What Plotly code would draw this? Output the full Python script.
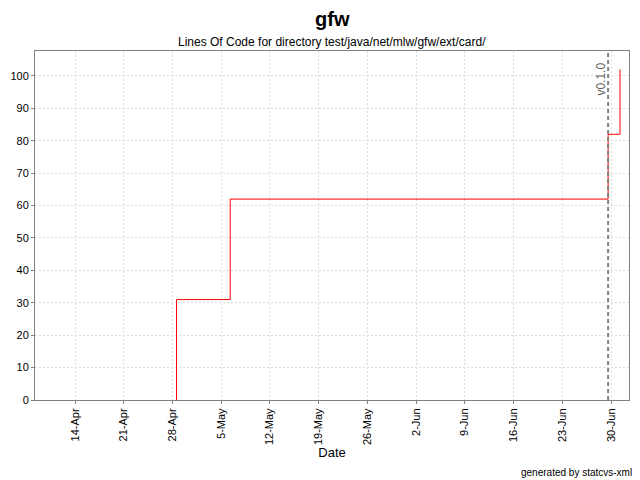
import plotly.graph_objects as go

# Data
dates = ["2008-04-28 14:00", "2008-04-28 14:00", "2008-05-06 07:00", "2008-06-29 14:00", "2008-07-01 07:00"]
loc = [0, 31, 62, 82, 102]
tick_dates = ["2008-04-14", "2008-04-21", "2008-04-28", "2008-05-05", "2008-05-12", "2008-05-19",
              "2008-05-26", "2008-06-02", "2008-06-09", "2008-06-16", "2008-06-23", "2008-06-30"]
tick_labels = ["14-Apr", "21-Apr", "28-Apr", "5-May", "12-May", "19-May",
               "26-May", "2-Jun", "9-Jun", "16-Jun", "23-Jun", "30-Jun"]
version_date = "2008-06-29 14:00"
version_label = "v0.1.0"
y_ticks = list(range(0, 101, 10))

FONT = "Liberation Sans, Arial"

fig = go.Figure()
fig.add_trace(go.Scatter(x=dates, y=loc, mode="lines", line=dict(color="#ff0000", width=1, shape="hv"),
                         showlegend=False, hoverinfo="skip"))

fig.add_shape(type="line", xref="x", yref="paper", x0=version_date, x1=version_date, y0=0, y1=1,
              line=dict(color="#808080", width=2, dash="4px,3px"))
fig.add_annotation(x=version_date, xref="x", y=1, yref="paper", text=version_label, textangle=-90,
                   showarrow=False, xanchor="right", yanchor="top", xshift=1, yshift=-10,
                   font=dict(family=FONT, size=12, color="#606060"))

fig.update_layout(
    width=640, height=480,
    margin=dict(l=35, r=11, t=51, b=80, autoexpand=False),
    paper_bgcolor="white", plot_bgcolor="white",
    font=dict(family=FONT, size=11, color="black"),
    xaxis=dict(range=["2008-04-08 06:00", "2008-07-02 14:00"], tickvals=tick_dates, ticktext=tick_labels,
               tickangle=-90, showgrid=True, gridcolor="#dcdcdc", griddash="2px,2px", gridwidth=1,
               showline=True, linecolor="#808080", mirror=True, ticks="outside", ticklen=3,
               tickcolor="#808080", zeroline=False, tickfont=dict(size=11), automargin=False,
               title=dict(text="Date", font=dict(size=13), standoff=2)),
    yaxis=dict(range=[0, 107.7], tickvals=y_ticks, showgrid=True, gridcolor="#dcdcdc", griddash="2px,2px",
               showline=True, linecolor="#808080", mirror=True, ticks="outside", ticklen=3,
               tickcolor="#808080", zeroline=False, tickfont=dict(size=11), automargin=False),
)
fig.add_annotation(text="<b>gfw</b>", xref="paper", yref="paper", x=0.5, y=1, yshift=51 - 19,
                   xanchor="center", yanchor="middle", showarrow=False,
                   font=dict(family=FONT, size=20, color="black"))
fig.add_annotation(text="Lines Of Code for directory test/java/net/mlw/gfw/ext/card/", xref="paper", yref="paper",
                   x=0.5, y=1, yshift=51 - 42, xanchor="center", yanchor="middle", showarrow=False,
                   font=dict(family=FONT, size=12, color="black"))
fig.add_annotation(text="generated by statcvs-xml", xref="paper", yref="paper", x=1.0, y=0, xanchor="right",
                   yanchor="middle", xshift=5, yshift=400 - 472, showarrow=False,
                   font=dict(family=FONT, size=10, color="black"))

fig.write_html("out.html", config={"displayModeBar": False},
               post_script="document.body.style.margin='0';document.body.style.overflow='hidden';")
